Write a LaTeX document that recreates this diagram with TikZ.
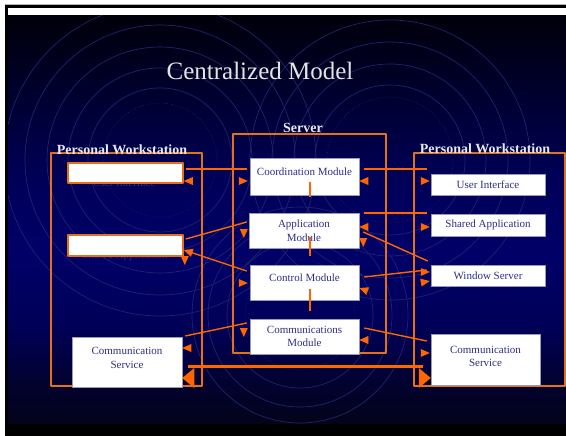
\documentclass[tikz,border=0pt]{standalone}
\usepackage{fontspec}
\setmainfont{Liberation Serif}
\usetikzlibrary{arrows.meta,calc}
\definecolor{ink}{HTML}{2E2E88}
\definecolor{accent}{HTML}{FF6600}
\definecolor{framec}{HTML}{E4701E}
\definecolor{boxline}{HTML}{9A9AB8}
\definecolor{labelc}{HTML}{E8E8EE}
\definecolor{titlec}{HTML}{E4E4E4}
\definecolor{ring}{HTML}{222270}
\definecolor{bgtop}{HTML}{00000A}
\definecolor{bghigh}{HTML}{000030}
\definecolor{bgmid}{HTML}{000058}
\definecolor{bgnavy}{HTML}{000068}
\definecolor{bglow}{HTML}{020230}
\definecolor{bgbot}{HTML}{03031A}
\pgfdeclareverticalshading{slidebg}{100bp}{color(0bp)=(bgbot); color(25bp)=(bgbot);
  color(30bp)=(bglow); color(37bp)=(bgmid); color(46bp)=(bgnavy); color(55bp)=(bgmid);
  color(65bp)=(bghigh); color(75bp)=(bgtop); color(100bp)=(bgtop)}
\tikzset{
  every picture/.style={line join=round},
  title/.style={font=\fontsize{25}{30}\selectfont, text=titlec, anchor=base},
  pwlabel/.style={font=\fontsize{14}{16}\selectfont\bfseries, text=labelc, anchor=base},
  frame/.style={draw=framec, line width=1.2pt},
  modbox/.style={draw=boxline, fill=white, line width=0.5pt, text=ink, align=center,
    inner sep=0pt, font=\fontsize{11}{13.5}\selectfont},
  modtop/.style={modbox, text depth=9pt},
  wsbox/.style={modbox},
  emptybox/.style={modbox, draw=framec, line width=1.5pt},
  hidden/.style={text=ink, font=\fontsize{11}{13.5}\selectfont, anchor=base},
  conn/.style={draw=accent, line width=1.4pt},
  bus/.style={draw=accent, line width=3pt},
  ringline/.style={draw=ring, line width=0.7pt},
  arrowtip/.pic={\fill[accent] (0,0) -- (-9,-4) -- (-9,4) -- cycle;},
  bigarrowtip/.pic={\fill[accent] (0,0) -- (-12,-10) -- (-12,10) -- cycle;}
}
\begin{document}
\begin{tikzpicture}[x=1pt,y=-1pt]
  \useasboundingbox (0,0) rectangle (566,436);
  % slide background
  \fill[white] (0,0) rectangle (566,436);
  \fill[black] (5,5) rectangle (566,436);
  \draw[gray!60, line width=1pt] (5,4.5) -- (566,4.5);
  \fill[white] (8,8) rectangle (566,16);
  \shade[shading=slidebg] (8,16) rectangle (566,423);
  \begin{scope}
    \clip (8,16) rectangle (566,423);
    \foreach \r in {72,92,113,135,156}
      \draw[ringline] (160,160) circle[radius=\r];
    \foreach \r in {75,96,118,140}
      \draw[ringline] (390,160) circle[radius=\r];
    \foreach \r in {73,92,108}
      \draw[ringline] (300,315) circle[radius=\r];
    \draw[ringline, dotted] (160,160) circle[radius=57];
    \draw[ringline, dotted] (390,160) circle[radius=63];
    \draw[ringline, dotted] (300,315) circle[radius=55];
  \end{scope}

  \node[title] (ttl) at (260,80) {Centralized Model};

  % frames
  \draw[frame] (51,153) rectangle (202,386);
  \draw[frame] (233,134) rectangle (386,353);
  \draw[frame] (414,153) rectangle (565,386);
  \node[pwlabel] (lpwlab) at (122,154.5) {Personal Workstation};
  \node[pwlabel] (srvlab) at (303,133) {Server};
  \node[pwlabel] (rpwlab) at (485,153.5) {Personal Workstation};

  % server
  \node[modtop, minimum width=109pt, minimum height=37pt] (coord) at (304.5,176.5) {Coordination Module};
  \node[modbox, minimum width=110pt, minimum height=35pt] (appl) at (304,230.5) {Application\\Module};
  \node[modtop, minimum width=109pt, minimum height=35pt] (ctrl) at (304.5,282.5) {Control Module};
  \node[modbox, minimum width=109pt, minimum height=35pt] (comm) at (304.5,336.5) {Communications\\Module};

  % left workstation
  \node[hidden] (uihid) at (124,186.5) {User Interface};
  \node[hidden] (sahid) at (125,258.5) {Shared Application};
  \node[emptybox, minimum width=115pt, minimum height=20pt] (ltop) at (125.5,173) {};
  \node[emptybox, minimum width=115pt, minimum height=21pt] (lmid) at (125.5,245.5) {};
  \node[wsbox, minimum width=110pt, minimum height=50pt, text depth=8pt] (lcs) at (127,362) {Communication\\Service};

  % right workstation
  \node[wsbox, minimum width=114pt, minimum height=21pt] (rui) at (488,184.5) {User Interface};
  \node[wsbox, minimum width=114pt, minimum height=22pt] (rsa) at (488,225) {Shared Application};
  \node[wsbox, minimum width=114pt, minimum height=21pt] (rws) at (488,275.5) {Window Server};
  \node[wsbox, minimum width=109pt, minimum height=51pt, text depth=6pt] (rcs) at (485.5,359.5) {Communication\\Service};

  % module links
  \draw[conn] ($(coord.south)+(5.5,-13)$) -- ($(appl.north)+(6,-16)$);
  \draw[conn] ($(appl.south)+(6,-11)$) -- ($(ctrl.north)+(5.5,-9)$);
  \draw[conn] ($(ctrl.south)+(5.5,-11)$) -- ($(comm.north)+(5.5,-8)$);

  % left links
  \draw[conn] ($(ltop.east)+(2,-4)$) -- ($(coord.west)+(-3,-7.5)$);
  \draw[conn] ($(lmid.east)+(2,-6.5)$) -- ($(appl.west)+(-2,-8.5)$);
  \draw[conn, -{Triangle[length=9pt,width=8pt]}] ($(ctrl.west)+(-3,-11.5)$) -- ($(lmid.east)+(0,4.5)$);
  \draw[conn] ($(lcs.east)+(3,-26)$) -- ($(comm.west)+(-3,-13.5)$);
  \pic[rotate=180] at ($(ltop.east)+(0,8)$) {arrowtip};
  \pic at ($(coord.west)+(-2,4.5)$) {arrowtip};
  \pic[rotate=-90] at ($(appl.west)+(-5,7.5)$) {arrowtip};
  \pic[rotate=-90] at ($(lmid.east)+(1,19.5)$) {arrowtip};
  \pic at ($(ctrl.west)+(-2,0.5)$) {arrowtip};
  \pic[rotate=180] at ($(lcs.east)+(0,-14)$) {arrowtip};
  \pic[rotate=-90] at ($(comm.west)+(-6,0.5)$) {arrowtip};

  % right links
  \draw[conn] ($(coord.east)+(5,-7.5)$) -- ($(rui.west)+(-4,-15.5)$);
  \draw[conn] ($(appl.east)+(5,-17.5)$) -- ($(rsa.west)+(-4,-12)$);
  \draw[conn] ($(appl.east)+(4,1.5)$) -- ($(rws.west)+(-3,-14.5)$);
  \draw[conn] ($(ctrl.east)+(5,-5.5)$) -- ($(rws.west)+(-4,-5.5)$);
  \draw[conn] ($(comm.east)+(5,-8.5)$) -- ($(rcs.west)+(-4,-18.5)$);
  \pic[rotate=180] at ($(coord.east)+(0,4.5)$) {arrowtip};
  \pic at ($(rui.west)+(-1,-3.5)$) {arrowtip};
  \pic[rotate=180] at ($(appl.east)+(0,-3.5)$) {arrowtip};
  \pic at ($(rsa.west)+(-1,2)$) {arrowtip};
  \pic[rotate=-90] at ($(appl.east)+(4,16.5)$) {arrowtip};
  \pic at ($(rws.west)+(-1,-3.5)$) {arrowtip};
  \pic[rotate=10] at ($(rws.west)+(-1,5.5)$) {arrowtip};
  \pic[rotate=160] at ($(ctrl.east)+(0,5.5)$) {arrowtip};
  \pic[rotate=180] at ($(comm.east)+(0,3.5)$) {arrowtip};
  \pic at ($(rcs.west)+(-1,-6.5)$) {arrowtip};

  % communication between workstations
  \draw[bus] ($(lcs.east)+(6,4)$) -- ($(rcs.west)+(-8,6.5)$);
  \pic[rotate=180] at ($(lcs.east)+(0,16)$) {bigarrowtip};
  \pic at ($(rcs.west)+(0,18.5)$) {bigarrowtip};
\end{tikzpicture}
\end{document}
